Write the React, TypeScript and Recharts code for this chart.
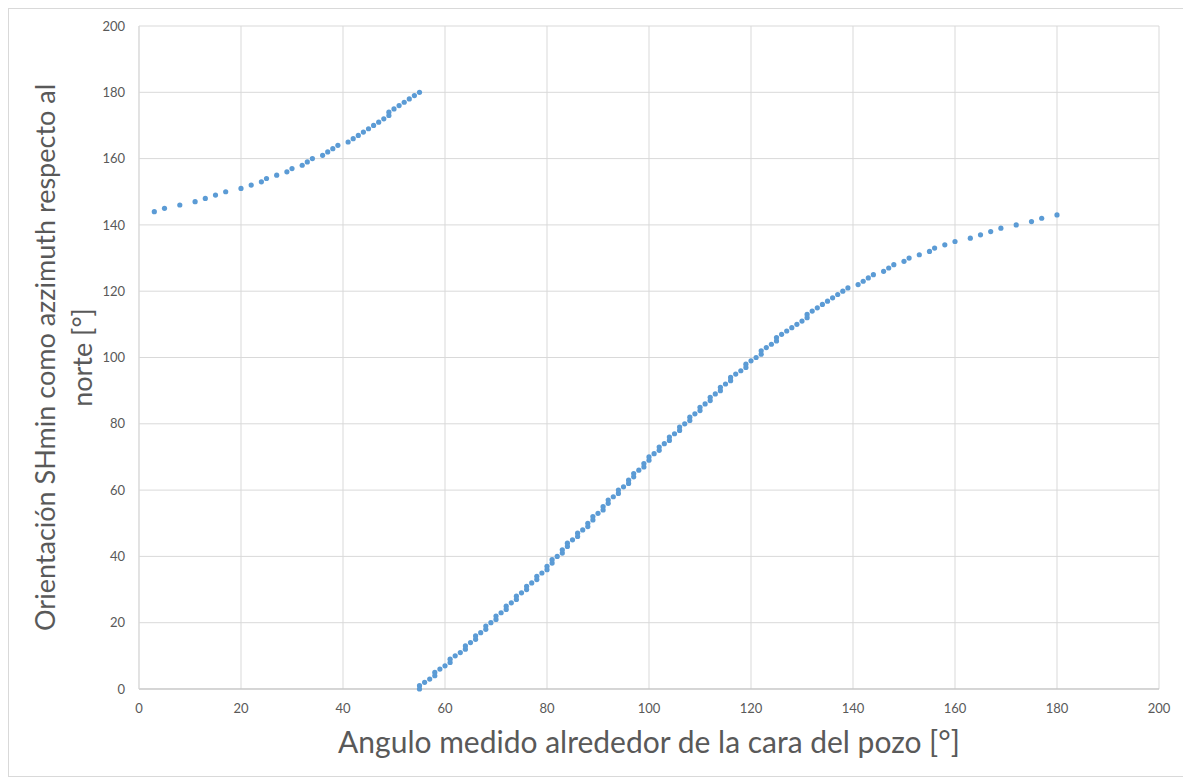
import { CartesianGrid, Scatter, ScatterChart, XAxis, YAxis } from "recharts";

// segmento superior (antes del salto 180 -> 0)
const upperAngle = [
  3, 5, 8, 11, 13, 15, 17, 20, 22, 24,
  25, 27, 29, 30, 32, 33, 34, 36, 37, 38,
  39, 41, 42, 43, 44, 45, 46, 47, 48, 49,
  49, 50, 51, 52, 53, 54, 55,
];
const upperAzimuth = [
  144, 145, 146, 147, 148, 149, 150, 151, 152, 153,
  154, 155, 156, 157, 158, 159, 160, 161, 162, 163,
  164, 165, 166, 167, 168, 169, 170, 171, 172, 173,
  174, 175, 176, 177, 178, 179, 180,
];

// segmento inferior
const lowerAngle = [
  55, 55, 56, 57, 58, 58, 59, 60, 61, 61,
  62, 63, 64, 64, 65, 66, 66, 67, 68, 68,
  69, 70, 70, 71, 72, 72, 73, 74, 74, 75,
  76, 76, 77, 78, 78, 79, 80, 80, 81, 81,
  82, 83, 83, 84, 84, 85, 86, 86, 87, 88,
  88, 89, 89, 90, 91, 91, 92, 92, 93, 94,
  94, 95, 96, 96, 97, 97, 98, 99, 99, 100,
  100, 101, 102, 102, 103, 104, 104, 105, 106, 106,
  107, 108, 108, 109, 110, 110, 111, 112, 112, 113,
  114, 114, 115, 116, 116, 117, 118, 119, 119, 120,
  121, 122, 122, 123, 124, 125, 125, 126, 127, 128,
  129, 130, 131, 131, 132, 133, 134, 135, 136, 137,
  138, 139, 141, 142, 143, 144, 146, 147, 148, 150,
  151, 153, 155, 156, 158, 160, 163, 165, 167, 169,
  172, 175, 177, 180,
];
const lowerAzimuth = [
  0, 1, 2, 3, 4, 5, 6, 7, 8, 9,
  10, 11, 12, 13, 14, 15, 16, 17, 18, 19,
  20, 21, 22, 23, 24, 25, 26, 27, 28, 29,
  30, 31, 32, 33, 34, 35, 36, 37, 38, 39,
  40, 41, 42, 43, 44, 45, 46, 47, 48, 49,
  50, 51, 52, 53, 54, 55, 56, 57, 58, 59,
  60, 61, 62, 63, 64, 65, 66, 67, 68, 69,
  70, 71, 72, 73, 74, 75, 76, 77, 78, 79,
  80, 81, 82, 83, 84, 85, 86, 87, 88, 89,
  90, 91, 92, 93, 94, 95, 96, 97, 98, 99,
  100, 101, 102, 103, 104, 105, 106, 107, 108, 109,
  110, 111, 112, 113, 114, 115, 116, 117, 118, 119,
  120, 121, 122, 123, 124, 125, 126, 127, 128, 129,
  130, 131, 132, 133, 134, 135, 136, 137, 138, 139,
  140, 141, 142, 143,
];

const axisTicks = [0, 20, 40, 60, 80, 100, 120, 140, 160, 180, 200];

const xTitle = "Angulo medido alrededor de la cara del pozo [°]";
const yTitleLines = ["Orientación SHmin como azzimuth respecto al", "norte [°]"];

const points = [
  ...upperAngle.map((a, i) => ({ x: a, y: upperAzimuth[i] })),
  ...lowerAngle.map((a, i) => ({ x: a, y: lowerAzimuth[i] })),
];

const FONT = "Lato, 'Open Sans', sans-serif";
const TEXT = "#595959";

function Dot(props: any) {
  return <circle cx={props.cx} cy={props.cy} r={2.6} fill="#5b9bd5" />;
}

function XTitle(props: any) {
  const vb = props.viewBox;
  return (
    <text
      x={vb.x + vb.width / 2}
      y={vb.y + 64}
      textAnchor="middle"
      fontSize={30}
      fontFamily={FONT}
      fill={TEXT}
    >
      {xTitle}
    </text>
  );
}

function YTitle(props: any) {
  const vb = props.viewBox;
  const cy = vb.y + vb.height / 2;
  return (
    <g>
      {yTitleLines.map((line, i) => {
        const x = vb.x - 24 + i * 37;
        return (
          <text
            key={i}
            x={x}
            y={cy}
            transform={`rotate(-90 ${x} ${cy})`}
            textAnchor="middle"
            fontSize={27}
            fontFamily={FONT}
            fill={TEXT}
          >
            {line}
          </text>
        );
      })}
    </g>
  );
}

export default function App() {
  return (
    <div
      style={{
        width: 1176,
        height: 769,
        boxSizing: "border-box",
        border: "1px solid #d9d9d9",
        background: "#fff",
      }}
    >
      <ScatterChart
        width={1174}
        height={767}
        margin={{ top: 17, right: 24, bottom: 57, left: 70 }}
      >
        <CartesianGrid stroke="#d9d9d9" strokeWidth={1} />
        <XAxis
          type="number"
          dataKey="x"
          domain={[0, 200]}
          ticks={axisTicks}
          height={30}
          tickLine={false}
          tickMargin={9}
          axisLine={{ stroke: "#bfbfbf" }}
          tick={{ fontSize: 13, fill: TEXT, fontFamily: FONT }}
          label={<XTitle />}
        />
        <YAxis
          type="number"
          dataKey="y"
          domain={[0, 200]}
          ticks={axisTicks}
          width={60}
          tickLine={false}
          tickMargin={8}
          axisLine={{ stroke: "#d9d9d9" }}
          tick={{ fontSize: 13, fill: TEXT, fontFamily: FONT }}
          label={<YTitle />}
        />
        <Scatter data={points} shape={Dot} isAnimationActive={false} />
      </ScatterChart>
    </div>
  );
}
